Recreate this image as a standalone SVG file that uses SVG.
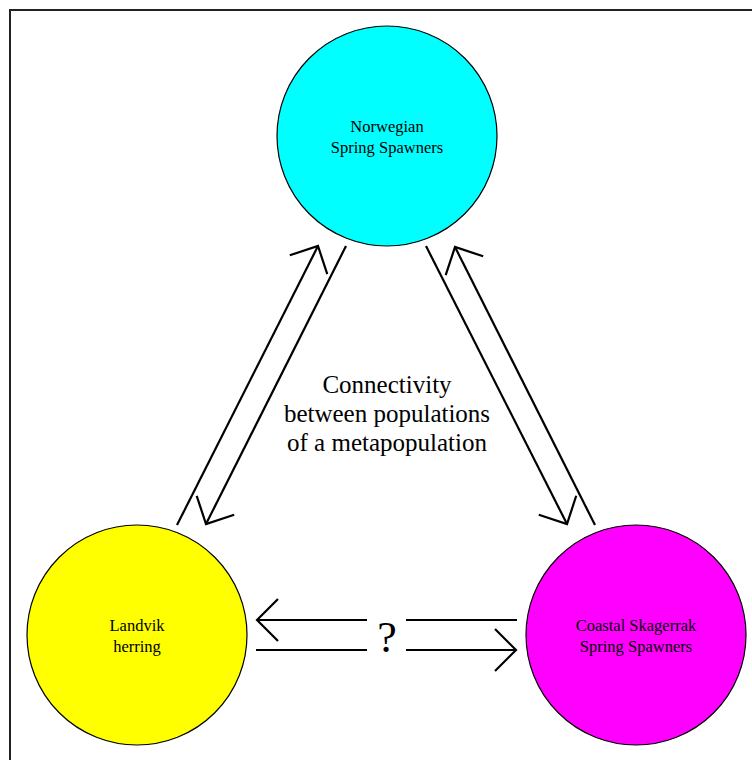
<svg xmlns="http://www.w3.org/2000/svg" width="752" height="760" viewBox="0 0 752 760">
<defs>
<style>
.node{stroke:#000;stroke-width:1.2}
.lbl{font-family:"Liberation Serif","Times New Roman",serif;font-size:16.5px;fill:#000;text-anchor:middle}
.big{font-family:"Liberation Serif","Times New Roman",serif;font-size:25px;fill:#000;text-anchor:middle}
.ln{stroke:#000;stroke-width:2.2;fill:none}
</style>
<marker id="ah" viewBox="-30 -25 35 50" markerWidth="35" markerHeight="50" refX="0" refY="0" orient="auto" markerUnits="userSpaceOnUse">
<path d="M-21,-21 L0,0 L-21,21" fill="none" stroke="#000" stroke-width="2.2"/>
</marker>
</defs>
<rect width="752" height="760" fill="#fff"/>
<path d="M10,760 V10 H752" fill="none" stroke="#222" stroke-width="2"/>
<g id="norwegian">
<circle class="node" cx="387" cy="136" r="110" fill="#00ffff"/>
<text class="lbl" x="387" y="132">Norwegian</text>
<text class="lbl" x="387" y="153">Spring Spawners</text>
</g>
<g id="landvik">
<circle class="node" cx="137" cy="635" r="110" fill="#ffff00"/>
<text class="lbl" x="137" y="631">Landvik</text>
<text class="lbl" x="137" y="652">herring</text>
</g>
<g id="coastal">
<circle class="node" cx="636" cy="635" r="110" fill="#ff00ff"/>
<text class="lbl" x="636" y="631">Coastal Skagerrak</text>
<text class="lbl" x="636" y="652">Spring Spawners</text>
</g>
<g id="connectors">
<line class="ln" x1="177" y1="525" x2="318" y2="246" marker-end="url(#ah)"/>
<line class="ln" x1="346" y1="246" x2="206" y2="524" marker-end="url(#ah)"/>
<line class="ln" x1="426" y1="246" x2="567" y2="524" marker-end="url(#ah)"/>
<line class="ln" x1="595" y1="525" x2="455" y2="247" marker-end="url(#ah)"/>
<line class="ln" x1="367" y1="620" x2="257" y2="620" marker-end="url(#ah)"/>
<line class="ln" x1="406" y1="620" x2="517" y2="620"/>
<line class="ln" x1="256" y1="650" x2="367" y2="650"/>
<line class="ln" x1="406" y1="650" x2="516" y2="650" marker-end="url(#ah)"/>
</g>
<g id="labels">
<text class="big" x="387" y="393">Connectivity</text>
<text class="big" x="387" y="422">between populations</text>
<text class="big" x="387" y="451">of a metapopulation</text>
<text class="big" x="387" y="652" style="font-size:44px">?</text>
</g>
</svg>
